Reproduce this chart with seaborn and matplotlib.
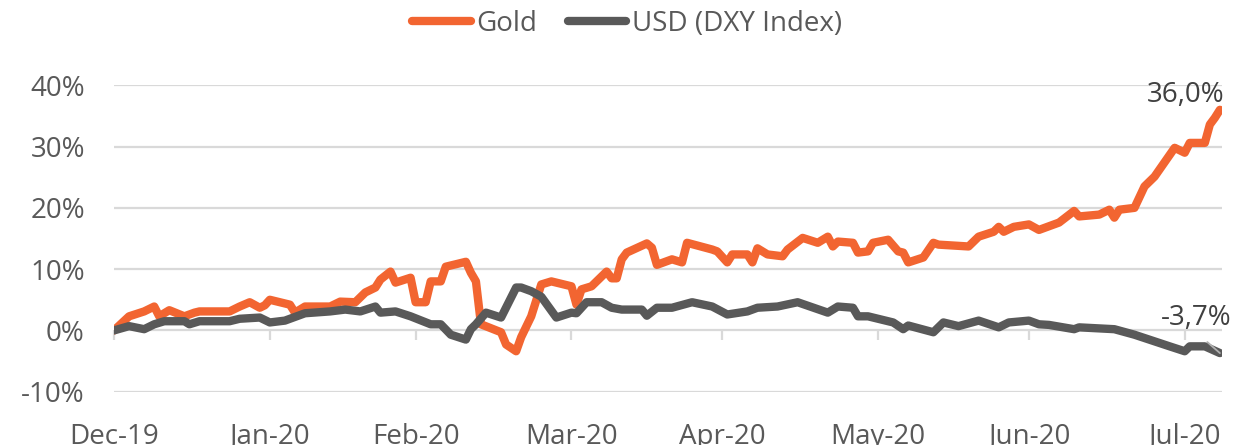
import pandas as pd
import seaborn as sns
import matplotlib.pyplot as plt
import matplotlib.dates as mdates
from matplotlib.ticker import FuncFormatter

# YTD performance, gold vs. dollar index (in %)
gold_dates = [
    '2019-12-31', '2020-01-03', '2020-01-06', '2020-01-08', '2020-01-09', '2020-01-11',
    '2020-01-14', '2020-01-16', '2020-01-17', '2020-01-23', '2020-01-25', '2020-01-27',
    '2020-01-29', '2020-01-30', '2020-01-31', '2020-02-04', '2020-02-05', '2020-02-07',
    '2020-02-12', '2020-02-14', '2020-02-17', '2020-02-19', '2020-02-21', '2020-02-22',
    '2020-02-24', '2020-02-25', '2020-02-28', '2020-02-29', '2020-03-02', '2020-03-03',
    '2020-03-05', '2020-03-06', '2020-03-10', '2020-03-11', '2020-03-12', '2020-03-13',
    '2020-03-17', '2020-03-18', '2020-03-20', '2020-03-21', '2020-03-23', '2020-03-25',
    '2020-03-27', '2020-03-31', '2020-04-01', '2020-04-02', '2020-04-04', '2020-04-07',
    '2020-04-08', '2020-04-09', '2020-04-10', '2020-04-11', '2020-04-15', '2020-04-16',
    '2020-04-17', '2020-04-20', '2020-04-22', '2020-04-23', '2020-04-28', '2020-04-29',
    '2020-05-01', '2020-05-02', '2020-05-05', '2020-05-06', '2020-05-07', '2020-05-09',
    '2020-05-12', '2020-05-13', '2020-05-16', '2020-05-19', '2020-05-21', '2020-05-22',
    '2020-05-23', '2020-05-26', '2020-05-27', '2020-05-29', '2020-05-30', '2020-06-02',
    '2020-06-04', '2020-06-05', '2020-06-06', '2020-06-09', '2020-06-11', '2020-06-12',
    '2020-06-18', '2020-06-20', '2020-06-23', '2020-06-24', '2020-06-25', '2020-06-27',
    '2020-06-30', '2020-07-02', '2020-07-06', '2020-07-09', '2020-07-10', '2020-07-14',
    '2020-07-16', '2020-07-17', '2020-07-18', '2020-07-21', '2020-07-23', '2020-07-25',
    '2020-07-29', '2020-07-31', '2020-08-01', '2020-08-04', '2020-08-05', '2020-08-06',
    '2020-08-07',
]
gold_pct = [
    0.0, 2.3, 3.1, 3.9, 2.3, 3.3,
    2.3, 2.9, 3.1, 3.1, 3.9, 4.6,
    3.7, 4.1, 5.0, 4.2, 2.9, 3.9,
    3.9, 4.7, 4.6, 6.2, 7.0, 8.3,
    9.6, 7.8, 8.6, 4.6, 4.6, 8.0,
    8.0, 10.4, 11.2, 9.4, 8.0, 1.0,
    -0.3, -2.3, -3.4, -1.1, 2.3, 7.5,
    8.0, 7.2, 4.2, 6.7, 7.2, 9.6,
    8.5, 8.5, 11.6, 12.7, 14.2, 13.5,
    10.7, 11.6, 11.1, 14.3, 13.2, 12.9,
    11.1, 12.4, 12.4, 11.1, 13.4, 12.4,
    12.1, 13.2, 15.1, 14.3, 15.3, 13.7,
    14.5, 14.3, 12.7, 12.9, 14.3, 14.8,
    12.9, 12.7, 11.1, 11.9, 14.3, 14.0,
    13.7, 15.3, 16.1, 16.9, 16.1, 16.9,
    17.3, 16.4, 17.6, 19.5, 18.6, 18.9,
    19.7, 18.4, 19.7, 20.0, 23.5, 25.1,
    29.8, 29.0, 30.6, 30.6, 33.6, 34.7,
    36.0,
]

usd_dates = [
    '2019-12-31', '2020-01-03', '2020-01-06', '2020-01-08', '2020-01-10', '2020-01-14',
    '2020-01-15', '2020-01-17', '2020-01-23', '2020-01-25', '2020-01-29', '2020-01-31',
    '2020-02-03', '2020-02-07', '2020-02-12', '2020-02-15', '2020-02-18', '2020-02-21',
    '2020-02-22', '2020-02-25', '2020-02-28', '2020-03-03', '2020-03-05', '2020-03-07',
    '2020-03-10', '2020-03-11', '2020-03-12', '2020-03-14', '2020-03-17', '2020-03-20',
    '2020-03-21', '2020-03-23', '2020-03-25', '2020-03-28', '2020-03-31', '2020-04-01',
    '2020-04-03', '2020-04-06', '2020-04-08', '2020-04-10', '2020-04-14', '2020-04-15',
    '2020-04-17', '2020-04-20', '2020-04-24', '2020-04-28', '2020-05-01', '2020-05-05',
    '2020-05-07', '2020-05-11', '2020-05-15', '2020-05-21', '2020-05-23', '2020-05-26',
    '2020-05-27', '2020-05-29', '2020-06-03', '2020-06-05', '2020-06-06', '2020-06-11',
    '2020-06-13', '2020-06-16', '2020-06-20', '2020-06-24', '2020-06-26', '2020-06-30',
    '2020-07-02', '2020-07-04', '2020-07-09', '2020-07-10', '2020-07-17', '2020-07-21',
    '2020-07-28', '2020-07-31', '2020-08-01', '2020-08-04', '2020-08-07',
]
usd_pct = [
    0.0, 0.7, 0.2, 1.0, 1.5, 1.5,
    1.0, 1.5, 1.5, 1.9, 2.1, 1.3,
    1.6, 2.8, 3.1, 3.4, 3.1, 3.9,
    2.9, 3.1, 2.3, 1.0, 1.0, -0.7,
    -1.5, 0.2, 1.0, 2.9, 2.1, 7.0,
    7.0, 6.4, 5.5, 2.1, 2.9, 2.8,
    4.6, 4.6, 3.7, 3.4, 3.4, 2.4,
    3.7, 3.7, 4.6, 3.9, 2.6, 3.1,
    3.7, 3.9, 4.6, 2.9, 3.9, 3.7,
    2.3, 2.3, 1.3, 0.2, 0.8, -0.3,
    1.3, 0.7, 1.6, 0.5, 1.3, 1.6,
    1.0, 0.9, 0.2, 0.5, 0.2, -0.7,
    -2.6, -3.4, -2.6, -2.6, -3.7,
]

series_names = ['Gold', 'USD (DXY Index)']
series_colors = ['#F26531', '#595959']
month_ends = ['2019-12-31', '2020-01-31', '2020-02-29', '2020-03-31',
              '2020-04-30', '2020-05-31', '2020-06-30', '2020-07-31']

df = pd.concat([
    pd.DataFrame({'date': pd.to_datetime(gold_dates), 'ret': [v / 100 for v in gold_pct], 'series': series_names[0]}),
    pd.DataFrame({'date': pd.to_datetime(usd_dates), 'ret': [v / 100 for v in usd_pct], 'series': series_names[1]}),
])

sns.set_theme(style='white')
plt.rcParams['font.family'] = ['Open Sans', 'DejaVu Sans']
plt.rcParams['axes.unicode_minus'] = False

fig = plt.figure(figsize=(12.35, 4.45), dpi=100)
ax = fig.add_axes([114 / 1235, 53 / 445, 1108 / 1235, 307 / 445])

sns.lineplot(data=df, x='date', y='ret', hue='series', hue_order=series_names,
             palette=series_colors, linewidth=6, solid_joinstyle='round',
             solid_capstyle='round', legend=False, ax=ax, zorder=3)

ymin, ymax = -0.1005, 0.4005
ax.set_ylim(ymin, ymax)
ax.set_xlim(pd.Timestamp('2019-12-31'), pd.Timestamp('2020-08-07 10:00'))
ax.set_yticks([-0.1, 0.0, 0.1, 0.2, 0.3, 0.4])
ax.yaxis.set_major_formatter(FuncFormatter(lambda v, _: '{:.0f}%'.format(v * 100)))
ax.set_xticks(pd.to_datetime(month_ends))
ax.xaxis.set_major_formatter(mdates.DateFormatter('%b-%y'))
ax.set_xlabel('')
ax.set_ylabel('')
for s in ax.spines.values():
    s.set_visible(False)
ax.grid(axis='y', color='#d9d9d9', linewidth=1.6)
ax.grid(axis='x', visible=False)
ax.tick_params(axis='y', length=0, pad=21, labelsize=20, labelcolor='#595959')
ax.tick_params(axis='x', length=0, pad=22, labelsize=20, labelcolor='#595959')

# small tick marks hanging off the 0% line
sec = ax.secondary_xaxis((0 - ymin) / (ymax - ymin))
sec.set_xticks(pd.to_datetime(month_ends))
sec.tick_params(axis='x', direction='out', length=7, width=1.6, color='#d9d9d9', labelbottom=False)
sec.spines['bottom'].set_visible(False)

# end-of-period data labels
ax.annotate('36,0%', xy=(pd.Timestamp(gold_dates[-1]), gold_pct[-1] / 100),
            xytext=(-25, 11), textcoords='offset points', ha='center', va='center',
            fontsize=20, color='#404040', zorder=6)
ax.annotate('-3,7%', xy=(pd.Timestamp(usd_dates[-1]), usd_pct[-1] / 100),
            xytext=(-17, 25), textcoords='offset points', ha='center', va='center',
            fontsize=20, color='#404040', zorder=6,
            arrowprops=dict(arrowstyle='-', color='#b0b0b0', lw=1.3,
                            shrinkA=7, shrinkB=0, relpos=(0.5, 0)))

handles = ax.get_lines()[:2]
fig.legend(handles, series_names, loc='center', bbox_to_anchor=(627 / 1235, 1 - 24 / 445),
           ncol=2, frameon=False, fontsize=20, handlelength=2.1, handletextpad=0.2,
           columnspacing=1.1, labelcolor='#595959')

fig.savefig('out.png', dpi=100)
